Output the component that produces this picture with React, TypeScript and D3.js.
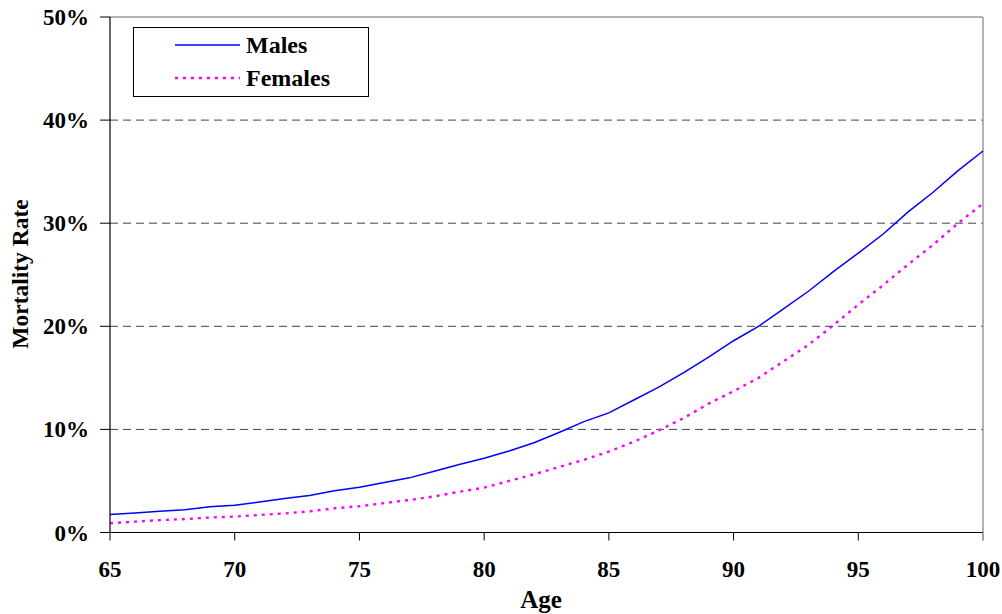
import React from "react";
import * as d3 from "d3";

const ages = d3.range(65, 101);
const males = [1.75, 1.9, 2.05, 2.2, 2.5, 2.65, 2.95, 3.3, 3.6, 4.05, 4.4, 4.85, 5.3, 5.95, 6.6, 7.2, 7.9, 8.7, 9.7, 10.75, 11.6, 12.85, 14.1, 15.5, 17.0, 18.6, 20.0, 21.7, 23.4, 25.3, 27.1, 28.95, 31.1, 33.0, 35.1, 37.0];
const females = [0.9, 1.05, 1.2, 1.3, 1.45, 1.55, 1.7, 1.85, 2.05, 2.35, 2.55, 2.85, 3.15, 3.5, 3.95, 4.35, 5.0, 5.65, 6.35, 7.05, 7.85, 8.8, 9.9, 11.1, 12.5, 13.7, 15.0, 16.6, 18.2, 20.1, 22.1, 24.0, 26.0, 27.9, 30.0, 31.9];
const xTicks = [65, 70, 75, 80, 85, 90, 95, 100];
const yTicks = [0, 10, 20, 30, 40, 50];

const W = 1002, H = 614;
const L = 110, R = 983, T = 17, B = 532.5;
const font = "'Liberation Serif', 'Times New Roman', serif";

export default function App() {
  const x = d3.scaleLinear().domain([65, 100]).range([L, R]);
  const y = d3.scaleLinear().domain([0, 50]).range([B, T]);
  const line = d3.line<number>().x((_, i) => x(ages[i])).y((d) => y(d));
  return (
    <svg width={W} height={H} style={{ position: "absolute", left: 0, top: 0, background: "#fff" }}>
      <rect x={0} y={0} width={W} height={H} fill="#fff" />
      {yTicks.filter((t) => t > 0 && t < 50).map((t) => (
        <line key={t} x1={L} x2={R} y1={y(t)} y2={y(t)} stroke="#444" strokeWidth={1} strokeDasharray="8 5" />
      ))}
      <line x1={L} x2={R} y1={T} y2={T} stroke="#999" strokeWidth={1.5} />
      <line x1={R} x2={R} y1={T} y2={B + 8} stroke="#999" strokeWidth={1.5} />
      <path d={line(females) || ""} fill="none" stroke="#ff00ff" strokeWidth={2.4} strokeDasharray="3 5" />
      <path d={line(males) || ""} fill="none" stroke="#0000ff" strokeWidth={1.5} />
      <line x1={L} x2={L} y1={T} y2={B} stroke="#000" strokeWidth={1.2} />
      <line x1={L} x2={R} y1={B} y2={B} stroke="#000" strokeWidth={1.2} />
      {yTicks.map((t) => (
        <g key={t}>
          <line x1={L - 10} x2={L} y1={y(t)} y2={y(t)} stroke="#000" strokeWidth={1} />
          <text x={89} y={y(t) + 8} textAnchor="end" fontFamily={font} fontWeight="bold" fontSize={23}>{t}%</text>
        </g>
      ))}
      {xTicks.map((t) => (
        <g key={t}>
          <line x1={x(t)} x2={x(t)} y1={B} y2={B + 8} stroke={t === 100 ? "#999" : "#000"} strokeWidth={1} />
          <text x={x(t)} y={577} textAnchor="middle" fontFamily={font} fontWeight="bold" fontSize={23}>{t}</text>
        </g>
      ))}
      <text x={541} y={608} textAnchor="middle" fontFamily={font} fontWeight="bold" fontSize={25}>Age</text>
      <text transform={`translate(28,274) rotate(-90)`} textAnchor="middle" fontFamily={font} fontWeight="bold" fontSize={23.5}>Mortality Rate</text>
      <rect x={133.5} y={27.5} width={235} height={69} fill="#fff" stroke="#000" strokeWidth={1} />
      <line x1={175} x2={240} y1={45} y2={45} stroke="#0000ff" strokeWidth={1.5} />
      <line x1={175} x2={240} y1={78} y2={78} stroke="#ff00ff" strokeWidth={2.4} strokeDasharray="3 5" />
      <text x={246} y={53} fontFamily={font} fontWeight="bold" fontSize={24}>Males</text>
      <text x={246} y={86} fontFamily={font} fontWeight="bold" fontSize={24}>Females</text>
    </svg>
  );
}
